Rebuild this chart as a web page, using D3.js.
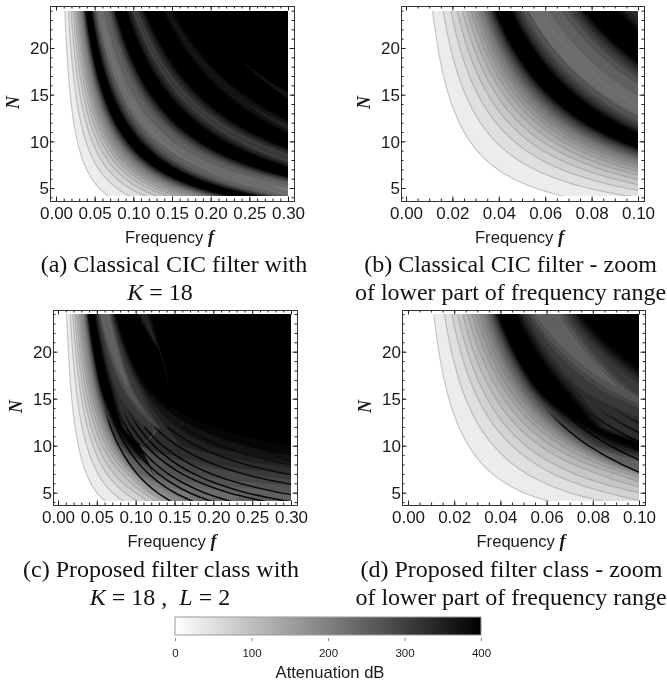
<!DOCTYPE html>
<html><head><meta charset="utf-8">
<script src="https://cdnjs.cloudflare.com/ajax/libs/d3/7.8.5/d3.min.js"></script>
<style>
html,body{margin:0;padding:0;background:#fff}
svg{display:block;filter:blur(0.45px)}
text{font-family:"Liberation Sans",Arial,sans-serif;fill:#1a1a1a}
.cap{font-family:"Liberation Serif","Times New Roman",serif;font-size:24px;fill:#111}
.var{font-family:"Liberation Serif","Times New Roman",serif;font-weight:bold;font-style:italic}
</style></head><body>
<svg id="c" width="667" height="684"></svg>
<script>
// ---- colour bar
const legendTicks = [0, 100, 200, 300, 400];

// ---- Classical CIC filter: iso-attenuation contours, as f*N at N=24 and at a lower N
const cicFill = [30,50,70,90,110,130,150,170,190,210,230,250,270,290,310,330,350,370,390,400,
  390,370,350,330,310,290,270,250,230,210,230,250,270,290,310,330,350,370,390,400,
  390,370,350,330,310,290,310,330,350,370,390,400,
  390,370,350,370,390,400,
  372,400];
const cicHigh = [.275,.384,.464,.529,.583,.630,.671,.706,.738,.767,.792,.815,.834,.852,.869,.883,.896,.908,.918,.928,
  1.085,1.098,1.114,1.133,1.155,1.184,1.222,1.275,1.385,1.61,1.27,1.47,1.597,1.663,1.71,1.75,1.78,1.808,1.83,1.851,
  2.178,2.21,2.25,2.31,2.40,2.52,2.38,2.52,2.615,2.68,2.73,2.765,
  3.295,3.38,3.565,3.375,3.56,3.65,
  4.544,4.416];
const cicLow = [.28,.396,.478,.544,.598,.644,.684,.72,.752,.78,.804,.827,.844,.862,.877,.892,.904,.916,.925,.934,
  1.075,1.087,1.10,1.116,1.133,1.155,1.183,1.218,1.26,1.335,1.58,1.66,1.71,1.753,1.787,1.815,1.838,1.859,1.875,1.889,
  2.115,2.132,2.152,2.175,2.203,2.24,2.745,2.785,2.812,2.837,2.858,2.875,
  3.237,3.285,3.36,3.58,3.665,3.717,
  4.38,4.58];
const cicLowN = [4,4,4,4,4,4,4,4,4,4,4,4,4,4,4,4,4,4,4,4,
  4,4,4,4,4,4,4,4,4,4,4,4,4,4,4,4,4,4,4,4,
  4,4,4,4,4,4,4,4,4,4,4,4,
  11,11,11,11,11,11,
  15,15];
// contour line visibility: v>0 drawn for N>=v, v<0 drawn for N<=|v|, 99 = none
const cicLineFrom = [4,4,4,4,4,4,4,4,4,4,4,99,99,99,99,99,99,99,99,99,
  99,99,99,99,99,99,4,4,4,-5.3,-5.3,4,4,4,99,99,99,99,99,99,
  99,99,99,99,4,-8.2,-8.2,4,99,99,99,99,
  99,99,99,99,99,99,
  99,99];

// ---- Proposed filter: contours as f*N at the rows below
const propRows = [24,16,12,10,7,5,4];
const propFill = [30,50,70,90,110,130,150,170,190,210,230,250,270,290,310,330,350,370,390,400,
  390,370,350,330,310,290,270,250,
  270,290,310,330,350,370,390,400,
  380,345,380,400];
const propAt24 = [.268,.378,.456,.515,.567,.618,.663,.704,.745,.78,.81,.83,.852,.869,.883,.896,.908,.918,.928,.94,
  1.12,1.14,1.165,1.19,1.22,1.25,1.29,1.33,
  1.56,1.60,1.64,1.67,1.70,1.73,1.76,1.79,
  2.45,2.53,2.77,2.85];
const propAt16 = [.266,.375,.455,.515,.57,.62,.665,.70,.735,.76,.78,.80,.82,.835,.85,.86,.87,.88,.89,.90,
  1.08,1.10,1.125,1.16,1.20,1.33,1.40,1.48,
  1.47,1.50,1.54,1.66,1.72,1.76,1.80,1.86,
  2.9,2.9,2.3,2.3];
const propAt12 = [.264,.372,.452,.512,.57,.62,.665,.70,.727,.747,.765,.782,.80,.817,.835,.855,.875,.895,.915,.94,
  .97,.98,1.0,1.02,1.35,1.52,1.58,1.65,
  1.52,1.53,1.56,1.57,1.66,1.83,2.1,2.4,
  6,6,5,5];
const propAt10 = [.262,.37,.45,.51,.57,.62,.665,.70,.72,.735,.75,.765,.78,.80,.82,.85,.88,.91,.94,.98,
  1.03,1.05,1.07,1.09,1.5,1.62,1.7,1.75,
  1.05,1.055,1.06,1.065,1.6,1.95,2.4,3.0,
  6,6,5,5];
const propAt7 = [.256,.36,.44,.505,.575,.63,.665,.69,.70,.71,.72,.74,.90,.95,1.0,1.0,1.05,1.10,1.20,1.30,
  .85,.86,.87,.88,.89,.90,.91,.92,
  .85,1.2,1.7,2.1,2.6,3.1,3.6,4.2,
  6,6,5,5];
const propAt5 = [.25,.35,.43,.50,.55,.585,.60,.64,.67,.72,.85,1.15,2,2,2,2,2,2,2,2,
  2,2,2,2,2,2,2,2,
  1.6,2.2,2.8,3.4,4,5,6,7,
  6,6,5,5];
const propAt4 = [.249,.345,.415,.47,.51,.545,.575,.60,.62,.66,.72,.90,2,2,2,2,2,2,2,2,
  2,2,2,2,2,2,2,2,
  1.1,1.45,1.9,2.4,3,4,5,6,
  6,6,5,5];
const propLineFrom = [4,4,4,4,4,4,4,4,4,99,99,99,99,99,99,99,99,99,99,99,
  99,99,99,99,99,99,14,16.2,
  16.2,14,99,99,99,99,99,99,
  99,99,99,99];

// ---- Proposed filter: dark null curves, frequency at the rows below
const nullRows = [14,12,10,8,7,6,5,4];
const nullA = [.0595,.0676,.0781,.0926,.102,.1136,.128,.147];
const nullB = [.0655,.0749,.0875,.105,.1168,.1315,.1504,.1756];
const nullC = [.071,.0815,.0957,.1158,.1294,.1467,.1692,.2];
const nullD = [.0762,.0878,.1036,.1263,.1419,.1619,.1884,.2252];
const nullE = [.0819,.0951,.1135,.1407,.1599,.185,.2196,.2701];
const nullF = [.0887,.1033,.1235,.1537,.175,.2032,.2423,.3];
const nullG = [null,.1114,.1349,.1711,.1977,.234,.2865,.3696];
const nullH = [null,.124,.1536,.2016,.2389,.2932,.379,null];
const nullI = [null,.141,.178,.2415,.2937,.375,null,null];
const nullJ = [null,.1607,.2092,.2998,.3826,null,null,null];
const nullK = [null,.1857,.2519,.3065,null,null,null,null];
const nullOpacity = [.9,.9,.9,.9,.9,.9,.85,.8,.7,.5,.3];

const fTicksWide = [0,.05,.10,.15,.20,.25,.30];
const fTicksNarrow = [0,.02,.04,.06,.08,.10];
const nTicks = [5,10,15,20];

const svg = d3.select("#c");
const gray = d3.scaleLinear().domain([0,400]).range(["#ffffff","#000000"]);
const defs = svg.append("defs");

const cicContours = cicFill.map((level,i)=>({level,Ns:[24,cicLowN[i]],cs:[cicHigh[i],cicLow[i]],lineFrom:cicLineFrom[i]}));
const propContours = propFill.map((level,i)=>({level,Ns:propRows,
  cs:[propAt24[i],propAt16[i],propAt12[i],propAt10[i],propAt7[i],propAt5[i],propAt4[i]],lineFrom:propLineFrom[i]}));
const nullCurves = [nullA,nullB,nullC,nullD,nullE,nullF,nullG,nullH,nullI,nullJ,nullK];

const layout = [
 {id:"a",frame:[50,294,6,201],xr:[56,288],yr:[188,48],fMax:.3,ticks:fTicksWide,minor:.01,contours:cicContours,nulls:false,capY:[272,300],capX:[174,160],
  cap:["(a) Classical CIC filter with",[["K","i"],[" = 18",""]]]},
 {id:"b",frame:[401,644,6,201],xr:[406,638],yr:[188,48],fMax:.1,ticks:fTicksNarrow,minor:.005,contours:cicContours,nulls:false,capY:[272,300],capX:[510.5,510.5],
  cap:["(b) Classical CIC filter - zoom","of lower part of frequency range"]},
 {id:"c",frame:[53,297,310,505],xr:[58,291],yr:[492.7,351.7],fMax:.3,ticks:fTicksWide,minor:.01,contours:propContours,nulls:true,capY:[577,605],capX:[161,160],
  cap:["(c) Proposed filter class with",[["K","i"],[" = 18 ,  ",""],["L","i"],[" = 2",""]]]},
 {id:"d",frame:[402,645,310,505],xr:[408,639],yr:[492.7,351.7],fMax:.1,ticks:fTicksNarrow,minor:.005,contours:propContours,nulls:true,capY:[577,605],capX:[511.5,511],
  cap:["(d) Proposed filter class - zoom","of lower part of frequency range"]}
];

const sampleN = d3.range(0,130).map(i=>25-i/6);

layout.forEach(p=>{
  const [fl,fr,ft,fb] = p.frame;
  const x = d3.scaleLinear().domain([0,p.fMax]).range(p.xr);
  const y = d3.scaleLinear().domain([5,20]).range(p.yr);
  const right = x(p.fMax);
  const g = svg.append("g");
  // whole-pixel clip edges, so stacked bands do not build up along a fractional edge
  const clipTop = Math.round(y(24)), clipBottom = Math.round(y(4))-1;
  defs.append("clipPath").attr("id","clip"+p.id).append("rect")
    .attr("x",x(0)).attr("y",clipTop).attr("width",right-x(0)).attr("height",clipBottom-clipTop);
  const plot = g.append("g").attr("clip-path",`url(#clip${p.id})`);
  const cAt = (ct,N)=>d3.scaleLinear().domain(ct.Ns.map(n=>1/(n*n))).range(ct.cs).clamp(true)(1/(N*N));
  const area = ct=>d3.area().y(N=>y(N)).x1(right+2).x0(N=>Math.min(right+2,x(cAt(ct,N)/N)))(sampleN);
  plot.selectAll("path.band").data(p.contours).join("path").attr("class","band")
    .attr("d",area).attr("fill",d=>gray(d.level));
  const shown = (ct,N)=>ct.lineFrom>0 ? N>=ct.lineFrom : N<=-ct.lineFrom;
  const lineOf = ct=>d3.line().defined(N=>shown(ct,N)).x(N=>x(cAt(ct,N)/N)).y(N=>y(N))(sampleN);
  plot.selectAll("path.iso").data(p.contours.filter(c=>c.lineFrom<99)).join("path").attr("class","iso")
    .attr("d",lineOf).attr("fill","none").attr("stroke","#808080")
    .attr("stroke-opacity",d=>d.level<=230?.42:.2).attr("stroke-width",1.15);
  if(p.nulls){
    const fade = defs.append("linearGradient").attr("id","fade"+p.id).attr("gradientUnits","userSpaceOnUse")
      .attr("x1",0).attr("x2",0).attr("y1",y(14)).attr("y2",y(12));
    fade.append("stop").attr("offset","0%").attr("stop-color","#000").attr("stop-opacity",0);
    fade.append("stop").attr("offset","100%").attr("stop-color","#000").attr("stop-opacity",1);
    const nl = d3.line().defined(d=>d.f!==null).x(d=>x(d.f)).y(d=>y(d.N)).curve(d3.curveMonotoneY);
    plot.selectAll("path.nul").data(nullCurves).join("path").attr("class","nul")
      .attr("d",c=>nl(c.map((f,i)=>({f,N:nullRows[i]})))).attr("fill","none").attr("stroke",`url(#fade${p.id})`)
      .attr("stroke-width",1.6).attr("stroke-opacity",(c,i)=>nullOpacity[i]);
  }
  // frame and ticks on all four sides through axes
  const xFull = x.copy().domain([x.invert(fl),x.invert(fr)]).range([fl,fr]);
  const yFull = y.copy().domain([y.invert(fb),y.invert(ft)]).range([fb,ft]);
  const minorF = d3.range(0,p.fMax+1e-9,p.minor).map(v=>+v.toFixed(3));
  const minorN = d3.range(4,25);
  const style = s=>{s.selectAll(".domain").attr("stroke","#333").attr("stroke-width",1);
    s.selectAll(".tick line").attr("stroke","#222").attr("stroke-width",1);};
  const axisPair = (gen,tr)=>g.append("g").attr("transform",tr).call(gen).call(style);
  const fmt = d=>d.toFixed(2);
  axisPair(d3.axisBottom(xFull).tickValues(minorF).tickSize(-2.5).tickSizeOuter(0).tickFormat(""),`translate(0,${fb})`);
  axisPair(d3.axisTop(xFull).tickValues(minorF).tickSize(-2.5).tickSizeOuter(0).tickFormat(""),`translate(0,${ft})`);
  axisPair(d3.axisLeft(yFull).tickValues(minorN).tickSize(-2.5).tickSizeOuter(0).tickFormat(""),`translate(${fl},0)`);
  axisPair(d3.axisRight(yFull).tickValues(minorN).tickSize(-2.5).tickSizeOuter(0).tickFormat(""),`translate(${fr},0)`);
  axisPair(d3.axisTop(xFull).tickValues(p.ticks).tickSize(-4.5).tickSizeOuter(0).tickFormat(""),`translate(0,${ft})`);
  axisPair(d3.axisRight(yFull).tickValues(nTicks).tickSize(-4.5).tickSizeOuter(0).tickFormat(""),`translate(${fr},0)`);
  const bot = axisPair(d3.axisBottom(xFull).tickValues(p.ticks).tickSize(-4.5).tickSizeOuter(0).tickFormat(fmt),`translate(0,${fb})`);
  bot.selectAll("text").attr("font-size",17).style("font-family",'"Liberation Sans"').attr("dy",null).attr("y",17.5).attr("fill","#1a1a1a");
  const lef = axisPair(d3.axisLeft(yFull).tickValues(nTicks).tickSize(-4.5).tickSizeOuter(0).tickFormat(d3.format("d")),`translate(${fl},0)`);
  lef.selectAll("text").attr("font-size",17).attr("x",-1).attr("dy","0.34em").style("font-family",'"Liberation Sans"').attr("fill","#1a1a1a");
  // titles
  const xMid = (p.xr[0]+p.xr[1])/2 - 2.5;
  const t = g.append("text").attr("x",xMid).attr("y",fb+42).attr("text-anchor","middle").attr("font-size",16.6);
  t.append("tspan").text("Frequency ");
  t.append("tspan").attr("class","var").attr("font-size",18).text("f");
  g.append("text").attr("class","var").attr("font-size",18).attr("text-anchor","middle")
    .attr("transform",`translate(${fl-31},${(ft+fb)/2-1}) rotate(-90)`).text("N");
  // caption
  p.cap.forEach((line,i)=>{
    const c = g.append("text").attr("class","cap").attr("x",p.capX[i]).attr("y",p.capY[i]).attr("text-anchor","middle");
    if(typeof line==="string") c.text(line);
    else line.forEach(([s,k])=>{const ts=c.append("tspan").text(s); if(k==="i") ts.style("font-style","italic");});
    c.style("white-space","pre");
  });
});

// colour bar
const lx = d3.scaleLinear().domain([0,400]).range([175,481]);
const grad = defs.append("linearGradient").attr("id","bar");
legendTicks.forEach(v=>grad.append("stop").attr("offset",(v/400*100)+"%").attr("stop-color",gray(v)));
const leg = svg.append("g");
leg.append("rect").attr("x",lx(0)).attr("y",617).attr("width",lx(400)-lx(0)).attr("height",18)
  .attr("fill","url(#bar)").attr("stroke","#999").attr("stroke-width",1);
const la = leg.append("g").attr("transform","translate(0,638)")
  .call(d3.axisBottom(lx).tickValues(legendTicks).tickSize(3).tickPadding(8));
la.select(".domain").remove();
la.selectAll(".tick line").attr("stroke","#888");
la.selectAll("text").attr("font-size",11.5).attr("fill","#555").style("font-family",'"Liberation Sans"');
leg.append("text").attr("x",330).attr("y",678).attr("text-anchor","middle").attr("font-size",16.6).text("Attenuation dB");
</script>
</body></html>
